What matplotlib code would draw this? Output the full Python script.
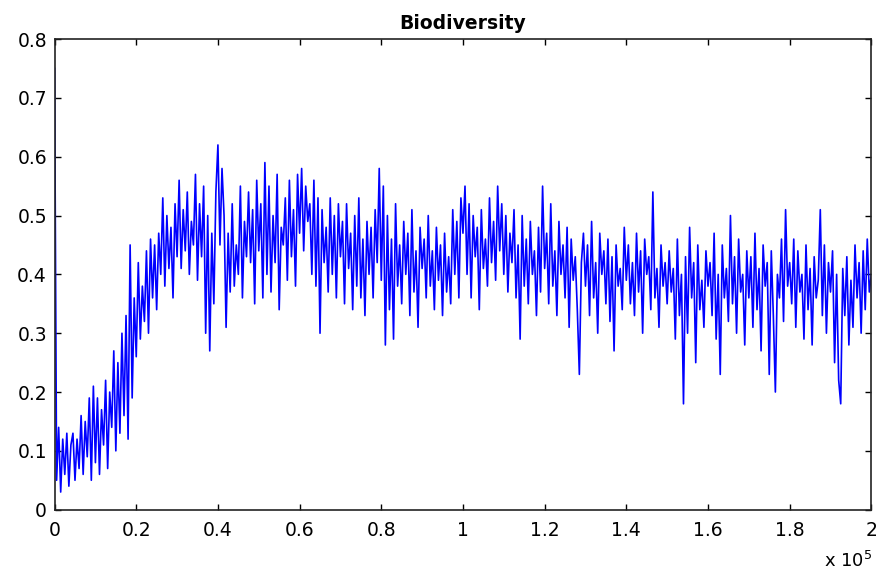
import numpy as np
import matplotlib
matplotlib.use("Agg")
import matplotlib.pyplot as plt

plt.rcParams['font.family'] = ['DejaVu Sans']

title = "Biodiversity"
x_step = 500
biodiversity = [
    0.75, 0.05, 0.14, 0.03, 0.12, 0.06, 0.13, 0.04, 0.11, 0.13, 0.05, 0.12, 0.07, 0.16, 0.06, 0.15, 0.09, 0.19, 0.05, 0.21,
    0.08, 0.19, 0.06, 0.17, 0.11, 0.22, 0.07, 0.20, 0.14, 0.27, 0.10, 0.25, 0.13, 0.30, 0.16, 0.33, 0.12, 0.45, 0.19, 0.36,
    0.26, 0.42, 0.29, 0.38, 0.32, 0.44, 0.30, 0.46, 0.36, 0.45, 0.34, 0.47, 0.40, 0.53, 0.38, 0.50, 0.41, 0.48, 0.36, 0.52,
    0.43, 0.56, 0.41, 0.51, 0.44, 0.54, 0.40, 0.49, 0.45, 0.57, 0.39, 0.52, 0.43, 0.55, 0.30, 0.50, 0.27, 0.47, 0.35, 0.54,
    0.62, 0.45, 0.58, 0.50, 0.31, 0.47, 0.37, 0.52, 0.38, 0.45, 0.40, 0.55, 0.36, 0.49, 0.43, 0.54, 0.42, 0.51, 0.35, 0.56,
    0.44, 0.52, 0.36, 0.59, 0.40, 0.55, 0.37, 0.50, 0.42, 0.57, 0.34, 0.48, 0.45, 0.53, 0.39, 0.56, 0.43, 0.51, 0.38, 0.57,
    0.47, 0.58, 0.44, 0.55, 0.49, 0.52, 0.40, 0.56, 0.38, 0.53, 0.30, 0.51, 0.42, 0.48, 0.37, 0.53, 0.40, 0.50, 0.36, 0.52,
    0.43, 0.49, 0.35, 0.52, 0.41, 0.47, 0.34, 0.50, 0.38, 0.53, 0.36, 0.46, 0.33, 0.49, 0.40, 0.48, 0.36, 0.51, 0.42, 0.58,
    0.39, 0.55, 0.28, 0.50, 0.34, 0.46, 0.29, 0.52, 0.38, 0.45, 0.35, 0.49, 0.40, 0.47, 0.33, 0.51, 0.37, 0.44, 0.31, 0.48,
    0.41, 0.46, 0.36, 0.50, 0.38, 0.44, 0.34, 0.48, 0.39, 0.45, 0.33, 0.47, 0.37, 0.43, 0.35, 0.51, 0.40, 0.49, 0.36, 0.53,
    0.47, 0.55, 0.40, 0.52, 0.36, 0.50, 0.43, 0.48, 0.34, 0.51, 0.41, 0.46, 0.38, 0.53, 0.42, 0.49, 0.39, 0.55, 0.44, 0.52,
    0.40, 0.50, 0.37, 0.47, 0.42, 0.51, 0.36, 0.45, 0.29, 0.50, 0.38, 0.46, 0.35, 0.49, 0.40, 0.44, 0.33, 0.48, 0.37, 0.55,
    0.41, 0.47, 0.35, 0.52, 0.38, 0.44, 0.33, 0.49, 0.40, 0.45, 0.36, 0.48, 0.31, 0.46, 0.39, 0.43, 0.34, 0.23, 0.42, 0.47,
    0.38, 0.45, 0.33, 0.49, 0.36, 0.42, 0.30, 0.47, 0.40, 0.44, 0.35, 0.46, 0.32, 0.43, 0.27, 0.45, 0.38, 0.41, 0.34, 0.48,
    0.39, 0.45, 0.35, 0.42, 0.33, 0.47, 0.37, 0.44, 0.30, 0.46, 0.40, 0.43, 0.34, 0.54, 0.36, 0.41, 0.31, 0.45, 0.38, 0.42,
    0.35, 0.44, 0.37, 0.41, 0.29, 0.46, 0.33, 0.40, 0.18, 0.43, 0.30, 0.48, 0.36, 0.42, 0.25, 0.45, 0.34, 0.39, 0.31, 0.44,
    0.38, 0.42, 0.33, 0.47, 0.29, 0.40, 0.23, 0.45, 0.36, 0.41, 0.32, 0.50, 0.35, 0.43, 0.30, 0.46, 0.37, 0.40, 0.28, 0.44,
    0.36, 0.43, 0.31, 0.47, 0.34, 0.41, 0.27, 0.45, 0.38, 0.42, 0.23, 0.44, 0.33, 0.20, 0.40, 0.36, 0.46, 0.32, 0.51, 0.38,
    0.42, 0.35, 0.46, 0.31, 0.44, 0.37, 0.40, 0.29, 0.45, 0.34, 0.41, 0.28, 0.43, 0.36, 0.39, 0.51, 0.33, 0.45, 0.30, 0.42,
    0.37, 0.44, 0.25, 0.40, 0.22, 0.18, 0.41, 0.33, 0.43, 0.28, 0.39, 0.31, 0.45, 0.36, 0.42, 0.30, 0.44, 0.34, 0.46, 0.37, 0.40,
]
x_ticks = [0, 20000, 40000, 60000, 80000, 100000, 120000, 140000, 160000, 180000, 200000]
x_tick_labels = ["0", "0.2", "0.4", "0.6", "0.8", "1", "1.2", "1.4", "1.6", "1.8", "2"]
y_ticks = [0, 0.1, 0.2, 0.3, 0.4, 0.5, 0.6, 0.7, 0.8]
y_tick_labels = ["0", "0.1", "0.2", "0.3", "0.4", "0.5", "0.6", "0.7", "0.8"]

y = np.array(biodiversity)
x = np.arange(len(y)) * x_step

fig = plt.figure(figsize=(8.83, 5.74), dpi=100)
ax = fig.add_axes([0.0618, 0.112, 0.925, 0.820])
ax.plot(x, y, color='#0000ff', linewidth=1.2)
ax.set_xlim(0, 200000)
ax.set_ylim(0, 0.8)
ax.set_xticks(x_ticks)
ax.set_xticklabels(x_tick_labels)
ax.set_yticks(y_ticks)
ax.set_yticklabels(y_tick_labels)
ax.tick_params(direction='in', top=True, right=True, length=4.5, width=1,
               labelsize=13.5, colors='black')
ax.tick_params(axis='x', pad=8)
ax.tick_params(axis='y', pad=5.5)
for s in ax.spines.values():
    s.set_linewidth(1.2)
    s.set_color('#222222')
ax.set_title(title, fontsize=13.5, fontweight='bold', pad=7)
fig.text(0.9875, 0.012, r"x 10$^5$", ha='right', va='baseline', fontsize=13)
fig.savefig("out.png", dpi=100)
